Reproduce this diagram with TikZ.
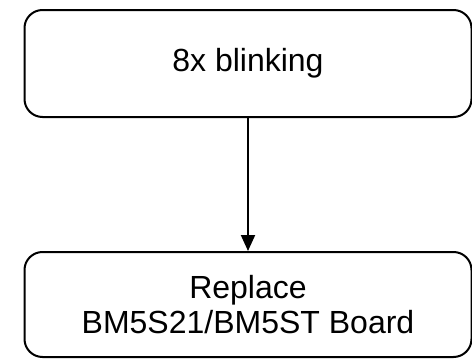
\documentclass[tikz,border=0pt]{standalone}
\usepackage{fontspec}
\setmainfont{Liberation Sans}
\usetikzlibrary{arrows.meta}
\begin{document}
\begin{tikzpicture}[x=1pt,y=-1pt,
  box/.style={draw=black,line width=2pt,rounded corners=18pt,rectangle,
    minimum width=447pt,inner sep=0pt,align=center,
    font=\fontsize{32}{35}\selectfont},
  conn/.style={draw=black,line width=2pt,-{Triangle[length=16pt,width=14pt]}}]
\useasboundingbox (0,0) rectangle (472,359);
\node[box,minimum height=107pt] (a) at (248,63.5) {8x blinking};
\node[box,minimum height=105pt] (b) at (248,304.5) {Replace\\BM5S21/BM5ST Board};
\draw[conn] (a) -- (b);
\end{tikzpicture}
\end{document}
